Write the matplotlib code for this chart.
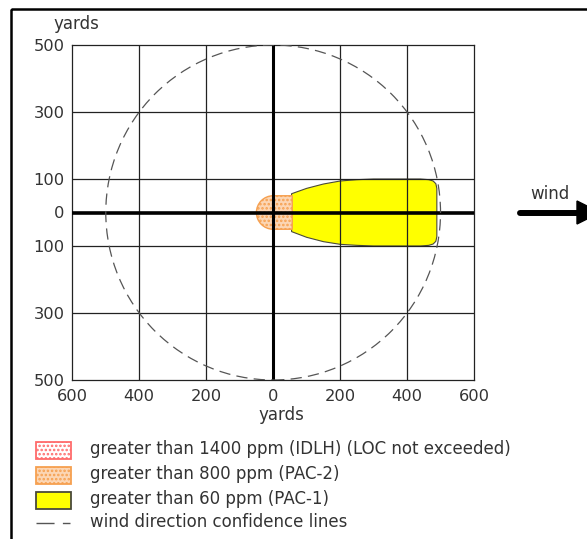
import matplotlib
matplotlib.use("Agg")
import matplotlib.pyplot as plt
import matplotlib.patches as mpatches
from matplotlib.path import Path

plt.rcParams['font.family'] = ['DejaVu Sans']
plt.rcParams['hatch.linewidth'] = 1.2

# ---- axis ticks (yards) ----
x_ticks = [-600, -400, -200, 0, 200, 400, 600]
x_tick_labels = ["600", "400", "200", "0", "200", "400", "600"]
y_ticks = [500, 300, 100, 0, -100, -300, -500]
y_tick_labels = ["500", "300", "100", "0", "100", "300", "500"]

# ---- threat zones ----
# PAC-1 footprint outline (downwind x, crosswind y), yards
pac1_x = [55, 100, 150, 200, 250, 300, 350, 400, 440, 465, 478, 486, 489,
          489, 486, 478, 465, 440, 400, 350, 300, 250, 200, 150, 100, 55]
pac1_y = [56, 72, 85, 94, 98, 100, 100, 100, 100, 98, 94, 86, 72,
          -72, -86, -94, -98, -100, -100, -100, -100, -98, -95, -87, -74, -57]
# PAC-2 zone: rounded upwind end, straight downwind edge
pac2_radius = 50
pac2_downwind = 57
# wind direction confidence circle
confidence_radius = 500

legend_labels = [
    "greater than 1400 ppm (IDLH) (LOC not exceeded)",
    "greater than 800 ppm (PAC-2)",
    "greater than 60 ppm (PAC-1)",
    "wind direction confidence lines",
]

W, H, DPI = 587, 539, 100
fig = plt.figure(figsize=(W / DPI, H / DPI), dpi=DPI)
fig.patch.set_facecolor("white")

FS = 12
text_color = "#333333"

# main plot area in pixel box
left_px, right_px, top_px, bot_px = 72.3, 474.0, 45.0, 380.0
ax = fig.add_axes([left_px / W, 1 - bot_px / H,
                   (right_px - left_px) / W, (bot_px - top_px) / H])
ax.set_xlim(-600, 600)
ax.set_ylim(-500, 500)

ax.set_xticks(x_ticks)
ax.set_xticklabels(x_tick_labels)
ax.set_yticks(y_ticks)
ax.set_yticklabels(y_tick_labels)
ax.tick_params(length=0, labelsize=11.7, colors=text_color)
ax.tick_params(axis="y", pad=5.5)
ax.tick_params(axis="x", pad=6.5)
for s in ax.spines.values():
    s.set_color("#222222")
    s.set_linewidth(0.9)

# PAC-1 zone
ax.fill(pac1_x, pac1_y, facecolor="#ffff00", edgecolor="#4a4a3a",
        linewidth=0.8, zorder=1)

# PAC-2 zone: half-circle upwind joined to a flat downwind edge
arc = Path.arc(90, 270)
verts = [(v[0] * pac2_radius, v[1] * pac2_radius) for v in arc.vertices]
codes = list(arc.codes)
verts += [(pac2_downwind, -pac2_radius), (pac2_downwind, pac2_radius),
          (0, pac2_radius)]
codes += [Path.LINETO, Path.LINETO, Path.CLOSEPOLY]
ax.add_patch(mpatches.PathPatch(Path(verts, codes), facecolor="#fcd6b4",
                                edgecolor="#f6a050", hatch="....",
                                linewidth=1.0, zorder=2))

# grid
for gx in [-400, -200, 200, 400]:
    ax.axvline(gx, color="#222222", linewidth=0.9, zorder=3)
for gy in [-300, -100, 100, 300]:
    ax.axhline(gy, color="#222222", linewidth=0.9, zorder=3)

# main cross-hair axes
ax.axhline(0, color="black", linewidth=2.6, zorder=4)
ax.axvline(0, color="black", linewidth=2.2, zorder=4)

# confidence circle
ax.add_patch(mpatches.Circle((0, 0), confidence_radius, fill=False,
                             edgecolor="#555555", linewidth=0.9,
                             linestyle=(0, (9, 5)), zorder=5))

# ---- overlay in pixel coordinates ----
ov = fig.add_axes([0, 0, 1, 1], facecolor="none")
ov.set_xlim(0, W)
ov.set_ylim(H, 0)
ov.axis("off")

ov.text(76, 24, "yards", fontsize=FS, color=text_color, ha="center", va="center")
ov.text(281.5, 415, "yards", fontsize=FS, color=text_color, ha="center", va="center")

# outer frame
ov.add_patch(mpatches.Rectangle((11, 9), 700, 700, fill=False,
                                edgecolor="black", linewidth=1.8, clip_on=False))

# wind arrow
ov.plot([520, 580], [212.5, 212.5], color="black", linewidth=4.3,
        solid_capstyle="round")
ov.add_patch(mpatches.Polygon([(577, 201), (577, 224), (600, 212.5)],
                              closed=True, color="black"))
ov.text(550, 194, "wind", fontsize=FS, color=text_color, ha="center", va="center")

# legend
rows_y = [450.5, 475, 500, 523]
px0, pw, ph = 36, 35, 17
ov.add_patch(mpatches.Rectangle((px0, rows_y[0] - ph / 2), pw, ph,
                                facecolor="white", edgecolor="#ff6b6b",
                                hatch="....", linewidth=1.3))
ov.add_patch(mpatches.Rectangle((px0, rows_y[1] - ph / 2), pw, ph,
                                facecolor="#fcd6b4", edgecolor="#f6a050",
                                hatch="....", linewidth=1.3))
ov.add_patch(mpatches.Rectangle((px0, rows_y[2] - ph / 2), pw, ph,
                                facecolor="#ffff00", edgecolor="#4a4a3a",
                                linewidth=1.3))
ov.plot([36, 70], [rows_y[3], rows_y[3]], color="#555555", linewidth=1.0,
        linestyle=(0, (13, 6)))
for yy, lab in zip(rows_y, legend_labels):
    ov.text(90, yy - 1, lab, fontsize=FS, color=text_color, ha="left", va="center")

fig.savefig("out.png", dpi=DPI)
